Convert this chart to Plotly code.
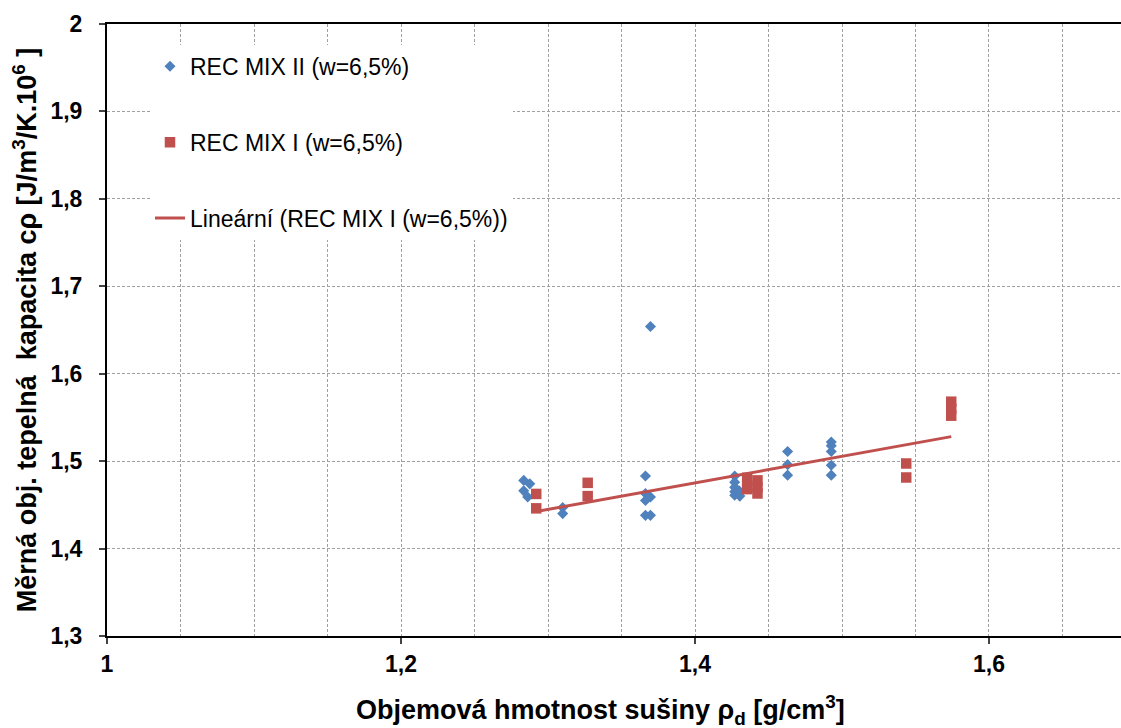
import numpy as np
import plotly.graph_objects as go

# ---- data ----
blue_name = "REC MIX II (w=6,5%)"
blue_x = [1.2835, 1.2876, 1.2835, 1.2862, 1.310, 1.310, 1.3697,
          1.3663, 1.3663, 1.3697, 1.3663, 1.3663, 1.3697,
          1.427, 1.427, 1.427, 1.427, 1.427, 1.4305, 1.430,
          1.463, 1.463, 1.463,
          1.4927, 1.4927, 1.4927, 1.4927, 1.4927]
blue_y = [1.478, 1.474, 1.466, 1.459, 1.447, 1.440, 1.654,
          1.483, 1.463, 1.459, 1.455, 1.438, 1.438,
          1.483, 1.476, 1.470, 1.465, 1.461, 1.460, 1.466,
          1.511, 1.496, 1.484,
          1.522, 1.5175, 1.511, 1.4954, 1.484]

red_name = "REC MIX I (w=6,5%)"
red_x = [1.292, 1.292, 1.327, 1.327, 1.4355, 1.4355, 1.4355,
         1.4425, 1.4425, 1.4425, 1.5437, 1.5437, 1.5743, 1.5743, 1.5743]
red_y = [1.4625, 1.446, 1.4752, 1.460, 1.481, 1.472, 1.468,
         1.478, 1.470, 1.463, 1.4973, 1.4813, 1.568, 1.560, 1.552]

trend_name = "Lineární (REC MIX I (w=6,5%))"

x_tickvals = [1.0, 1.2, 1.4, 1.6]
x_ticktext = ["1", "1,2", "1,4", "1,6"]
y_tickvals = [1.3, 1.4, 1.5, 1.6, 1.7, 1.8, 1.9, 2.0]
y_ticktext = ["1,3", "1,4", "1,5", "1,6", "1,7", "1,8", "1,9", "2"]

x_title = "Objemová hmotnost sušiny ρ<sub>d</sub> [g/cm<sup>3</sup>]"
y_title = "Měrná obj. tepelná  kapacita cρ [J/m<sup>3</sup>/K.10<sup>6</sup> ]"

# linear trend of red series
coef = np.polyfit(red_x, red_y, 1)
trend_x = [min(red_x), max(red_x)]
trend_y = list(np.polyval(coef, trend_x))

BLUE = "#4F81BD"
RED = "#C0504D"
FONT = "Liberation Sans, Arial, sans-serif"
GRID = "#A0A0A0"
DASH = "3px,2px"

fig = go.Figure()
fig.add_trace(go.Scatter(x=blue_x, y=blue_y, mode="markers", name=blue_name,
                         legendgroup="a",
                         marker=dict(symbol="diamond", size=8.5, color=BLUE)))
fig.add_trace(go.Scatter(x=red_x, y=red_y, mode="markers", name=red_name,
                         legendgroup="b",
                         marker=dict(symbol="square", size=10.5, color=RED)))
fig.add_trace(go.Scatter(x=trend_x, y=trend_y, mode="lines", name=trend_name,
                         legendgroup="c",
                         line=dict(color=RED, width=3)))

fig.update_layout(
    width=1121, height=728,
    margin=dict(l=107, r=0, t=24, b=92),
    paper_bgcolor="white", plot_bgcolor="white",
    font=dict(family=FONT, color="black"),
    legend=dict(x=0.0424, y=0.966, xanchor="left", yanchor="top",
                bgcolor="white", borderwidth=0,
                font=dict(size=23, family=FONT, color="black"),
                tracegroupgap=43, itemwidth=30),
    annotations=[dict(text="<b>" + x_title + "</b>", xref="paper", yref="paper",
                      x=0.487, y=-0.121, xanchor="center", yanchor="middle",
                      showarrow=False, font=dict(size=27, family=FONT))],
)
fig.update_xaxes(
    range=[1.0, 1.6898], tickvals=x_tickvals,
    ticktext=["<b>" + t + "</b>" for t in x_ticktext],
    tickfont=dict(size=23, family=FONT), ticks="outside", ticklen=6, tickwidth=1.5,
    ticklabelstandoff=0,
    showline=True, linecolor="black", linewidth=2, mirror=True,
    showgrid=True, gridcolor=GRID, griddash=DASH, gridwidth=1,
    minor=dict(dtick=0.05, tick0=1.0, showgrid=True, gridcolor=GRID,
               griddash=DASH, gridwidth=1, ticks=""),
    zeroline=False,
)
fig.update_yaxes(
    range=[1.3, 2.0], tickvals=y_tickvals,
    ticktext=["<b>" + t + "</b>" for t in y_ticktext],
    tickfont=dict(size=23, family=FONT), ticks="outside", ticklen=6, tickwidth=1.5,
    ticklabelstandoff=12,
    showline=True, linecolor="black", linewidth=2,
    showgrid=True, gridcolor=GRID, griddash=DASH, gridwidth=1,
    zeroline=False,
    title=dict(text="<b>" + y_title + "</b>", font=dict(size=27, family=FONT), standoff=6),
)

fig.write_html("out.html")
